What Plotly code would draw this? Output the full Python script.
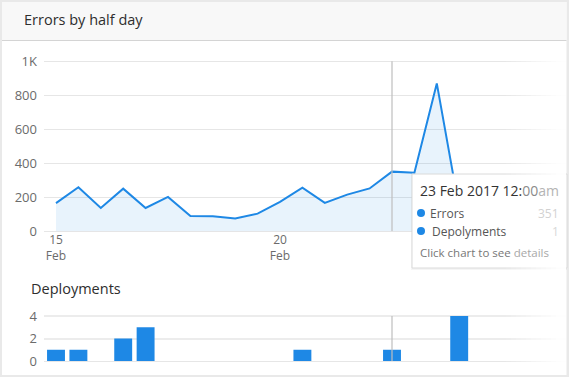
import pandas as pd
import plotly.graph_objects as go

# ---------------- data ----------------
start_time = "2017-02-15 12:00"
errors = [166, 259, 137, 251, 137, 202, 90, 88, 75, 104, 173, 257, 167, 216, 252, 351, 344, 870, 135]
deployments = [1, 1, 0, 2, 3, 0, 0, 0, 0, 0, 0, 1, 0, 0, 0, 1, 0, 0, 4]
y_tick_vals = [0, 200, 400, 600, 800, 1000]
y_tick_text = ["0", "200", "400", "600", "800", "1K"]
dep_tick_vals = [0, 2, 4]
x_tick_vals = ["2017-02-15 12:00", "2017-02-20 12:00"]
x_tick_text = ["15<br>Feb", "20<br>Feb"]
hover_time = "2017-02-23 00:00"
tooltip_date = "23 Feb 2017 12:"
tooltip_time_rest = ["00", "am"]
tooltip_errors = 351
tooltip_deploys = 1

times = pd.date_range(start_time, periods=len(errors), freq="12h")

# ---------------- layout helpers ----------------
W, H = 569, 377
FONT = "Open Sans"
BLUE = "#1E88E5"


def px(x):
    return x / W


def py(y):
    return 1 - y / H


half_day_ms = 12 * 3600 * 1000
x_left_px, x_right_px, first_px, step_px = 44, 566, 56, 22.4
t0 = pd.Timestamp(start_time)
x_range = [
    t0 + pd.Timedelta(hours=12 * (x_left_px - first_px) / step_px),
    t0 + pd.Timedelta(hours=12 * (x_right_px - first_px) / step_px),
]

fig = go.Figure()

fig.add_trace(go.Scatter(
    x=times, y=errors, mode="lines", name="Errors",
    line=dict(color=BLUE, width=2),
    fill="tozeroy", fillcolor="rgba(30,136,229,0.10)",
    xaxis="x", yaxis="y", hoverinfo="skip",
))
fig.add_trace(go.Bar(
    x=times, y=deployments, name="Deployments",
    marker=dict(color=BLUE, line=dict(width=0)),
    width=0.8 * half_day_ms,
    xaxis="x2", yaxis="y2", hoverinfo="skip",
))

grid = "#e6e6e6"
tickfont_y = dict(family=FONT, size=13, color="#6b6b6b")

fig.update_layout(
    width=W, height=H, autosize=False,
    margin=dict(l=0, r=0, t=0, b=0, pad=0),
    paper_bgcolor="#e9e9e9",
    plot_bgcolor="rgba(0,0,0,0)",
    showlegend=False,
    font=dict(family=FONT),
    xaxis=dict(
        domain=[px(x_left_px), px(x_right_px)], type="date", range=x_range,
        tickvals=x_tick_vals, ticktext=x_tick_text,
        tickfont=dict(family=FONT, size=12, color="#6b6b6b"),
        showgrid=False, zeroline=False, showline=False, ticks="",
        anchor="y", automargin=False,
    ),
    yaxis=dict(
        domain=[py(231.3), py(231.3 - 1020 * 0.17)], range=[0, 1020],
        tickvals=y_tick_vals, ticktext=y_tick_text, tickfont=tickfont_y,
        showgrid=True, gridcolor=grid, gridwidth=1,
        zeroline=True, zerolinecolor=grid, zerolinewidth=1,
        ticks="", ticklabelstandoff=6, anchor="x", automargin=False,
    ),
    xaxis2=dict(
        domain=[px(x_left_px), px(x_right_px)], type="date", matches="x",
        showticklabels=False, showgrid=False, zeroline=False, ticks="",
        anchor="y2", automargin=False,
    ),
    yaxis2=dict(
        domain=[py(361), py(361 - 4.1 * 11.25)], range=[0, 4.1],
        tickvals=dep_tick_vals, tickfont=tickfont_y,
        showgrid=True, gridcolor="#ececec", gridwidth=1.5,
        zeroline=True, zerolinecolor=grid, zerolinewidth=1,
        ticks="", ticklabelstandoff=6, anchor="x2", layer="above traces",
        automargin=False,
    ),
)

shapes = []
# card background
shapes.append(dict(type="rect", xref="paper", yref="paper", layer="below",
                   x0=px(2), x1=px(566.5), y0=py(375), y1=py(2),
                   fillcolor="white", line=dict(width=0)))
# title bar
shapes.append(dict(type="rect", xref="paper", yref="paper", layer="below",
                   x0=px(2), x1=px(566.5), y0=py(40.5), y1=py(2),
                   fillcolor="#f8f8f8", line=dict(width=0)))
shapes.append(dict(type="line", xref="paper", yref="paper", layer="below",
                   x0=px(2), x1=px(566.5), y0=py(40.5), y1=py(40.5),
                   line=dict(color="#d4d4d4", width=1)))
# hover cross lines
shapes.append(dict(type="line", xref="x", yref="y", layer="above",
                   x0=hover_time, x1=hover_time, y0=0, y1=1000,
                   line=dict(color="rgba(190,190,190,0.6)", width=2)))
shapes.append(dict(type="line", xref="x2", yref="y2", layer="above",
                   x0=hover_time, x1=hover_time, y0=0, y1=4,
                   line=dict(color="rgba(190,190,190,0.6)", width=2)))
# tooltip shadow + box
shapes.append(dict(type="rect", xref="paper", yref="paper", layer="above",
                   x0=px(411), x1=px(567), y0=py(270), y1=py(174),
                   fillcolor="rgba(0,0,0,0.04)", line=dict(width=0)))
shapes.append(dict(type="rect", xref="paper", yref="paper", layer="above",
                   x0=px(412), x1=px(567), y0=py(268), y1=py(174),
                   fillcolor="white", line=dict(color="#dadada", width=1)))
for yy in (213, 231):
    shapes.append(dict(type="circle", xref="paper", yref="paper", layer="above",
                       x0=px(417), x1=px(425), y0=py(yy + 4), y1=py(yy - 4),
                       fillcolor=BLUE, line=dict(width=0)))
# right-edge fade
n = 12
for k in range(n):
    xa = 506 + k * 5
    shapes.append(dict(type="rect", xref="paper", yref="paper", layer="above",
                       x0=px(xa), x1=px(min(xa + 5, 566.5)), y0=py(374), y1=py(41),
                       fillcolor="white", opacity=min(0.95, (k + 1) / n),
                       line=dict(width=0)))
fig.update_layout(shapes=shapes)

ann = []


def text(x, y, s, size, color, anchor="left", weight="normal"):
    ann.append(dict(xref="paper", yref="paper", x=px(x), y=py(y), text=s,
                    showarrow=False, xanchor=anchor, yanchor="middle",
                    font=dict(family=FONT, size=size, color=color, weight=weight)))


text(22, 19, "Errors by half day", 14.5, "#2e2e2e")
text(29, 288, "Deployments", 14.5, "#2e2e2e")
text(418, 190, tooltip_date + "<span style='color:#8a8a8a'>" + tooltip_time_rest[0] + "</span>"
     "<span style='color:#b4b4b4'>" + tooltip_time_rest[1] + "</span>", 14, "#333333")
text(428, 213, "Errors", 12, "#555555")
text(430, 231, "Depolyments", 12, "#555555")
text(561, 213, str(tooltip_errors), 12, "#d2d2d2", anchor="right")
text(561, 231, str(tooltip_deploys), 12, "#d8d8d8", anchor="right")
text(418, 252, "Click chart to see <span style='color:#a8a8a8'>details</span>", 11.5, "#777777")
fig.update_layout(annotations=ann)

fig.write_html(
    "out.html",
    config={"displayModeBar": False, "responsive": False},
    post_script="document.body.style.margin='0';",
)
